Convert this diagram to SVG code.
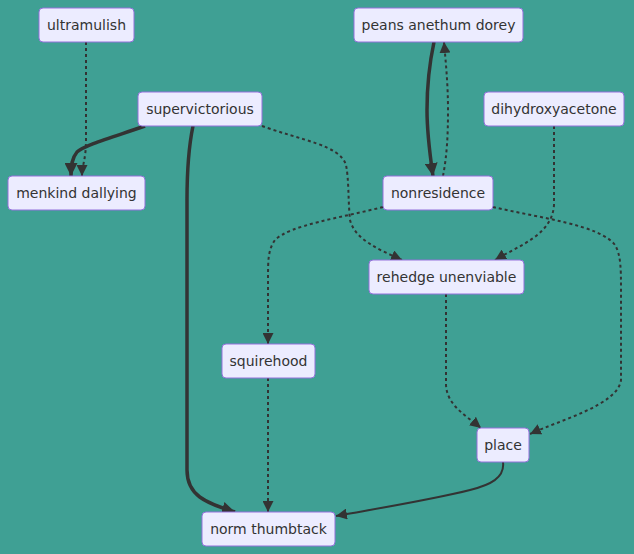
<svg xmlns="http://www.w3.org/2000/svg" width="634" height="554" viewBox="0 0 634 554">
<style>
.node rect{fill:#ECECFF;stroke:#9370DB;stroke-width:1}
.node text{font-family:"DejaVu Sans",sans-serif;font-size:14px;fill:#333;text-anchor:middle;dominant-baseline:central}
.e{fill:none;stroke:#333}
.n{stroke-width:2}
.t{stroke-width:3.5}
.d{stroke-width:2;stroke-dasharray:3 3}
</style>
<defs>
<marker id="a" viewBox="0 0 10 10" refX="10" refY="5" markerUnits="userSpaceOnUse" markerWidth="11" markerHeight="11" orient="auto"><path d="M0,0 L10,5 L0,10 z" fill="#333"/></marker>
<marker id="b" viewBox="0 0 10 10" refX="10" refY="5" markerUnits="userSpaceOnUse" markerWidth="13" markerHeight="13" orient="auto"><path d="M0,0 L10,5 L0,10 z" fill="#333"/></marker>
</defs>
<rect width="634" height="554" fill="#3fa094"/>
<g id="connectors">
<path class="e d" d="M86,42 L86,140 C86,160 82,165 82,176" marker-end="url(#a)"/>
<path class="e t" d="M145,126 C110,138 85,145 77,152 C72,158 71,165 71,176" marker-end="url(#b)"/>
<path class="e t" d="M193,126 C188,150 187,170 187,200 L187,470 C187,495 205,503 235,512" marker-end="url(#b)"/>
<path class="e d" d="M262,126 C300,140 340,145 346,165 C349,180 348,200 350,220 C355,240 380,250 402,260" marker-end="url(#a)"/>
<path class="e t" d="M434,42 C428,70 427,90 427,110 C427,135 430,155 433,176" marker-end="url(#b)"/>
<path class="e d" d="M443,176 C447,155 448,135 448,110 C448,85 446,65 444,42" marker-end="url(#a)"/>
<path class="e d" d="M554,126 L554,205 C552,235 520,245 495,260" marker-end="url(#a)"/>
<path class="e d" d="M383,207 C340,218 290,225 275,240 C268,250 268,260 268,280 L268,344" marker-end="url(#a)"/>
<path class="e d" d="M493,207 C540,218 600,225 615,245 C621,255 621,270 621,290 L621,380 C618,405 560,420 530,434" marker-end="url(#a)"/>
<path class="e d" d="M446,294 L446,385 C447,405 465,415 481,428" marker-end="url(#a)"/>
<path class="e d" d="M268,378 L268,512" marker-end="url(#a)"/>
<path class="e n" d="M503,462 C505,478 490,485 470,490 C430,500 380,508 336,516" marker-end="url(#a)"/>
</g>
<g id="ultramulish" class="node"><rect x="39" y="8" width="95" height="34" rx="4"/><text x="86.5" y="25">ultramulish</text></g>
<g id="peans" class="node"><rect x="354" y="8" width="169" height="34" rx="4"/><text x="438.5" y="25">peans anethum dorey</text></g>
<g id="supervictorious" class="node"><rect x="138" y="92" width="124" height="34" rx="4"/><text x="200" y="109">supervictorious</text></g>
<g id="dihydroxyacetone" class="node"><rect x="484" y="92" width="140" height="34" rx="4"/><text x="554" y="109">dihydroxyacetone</text></g>
<g id="menkind" class="node"><rect x="8" y="176" width="137" height="34" rx="4"/><text x="76.5" y="193">menkind dallying</text></g>
<g id="nonresidence" class="node"><rect x="383" y="176" width="110" height="34" rx="4"/><text x="438" y="193">nonresidence</text></g>
<g id="rehedge" class="node"><rect x="369" y="260" width="155" height="34" rx="4"/><text x="446.5" y="277">rehedge unenviable</text></g>
<g id="squirehood" class="node"><rect x="222" y="344" width="93" height="34" rx="4"/><text x="268.5" y="361">squirehood</text></g>
<g id="place" class="node"><rect x="477" y="428" width="52" height="34" rx="4"/><text x="503" y="445">place</text></g>
<g id="norm" class="node"><rect x="202" y="512" width="133" height="34" rx="4"/><text x="268.5" y="529">norm thumbtack</text></g>
</svg>
